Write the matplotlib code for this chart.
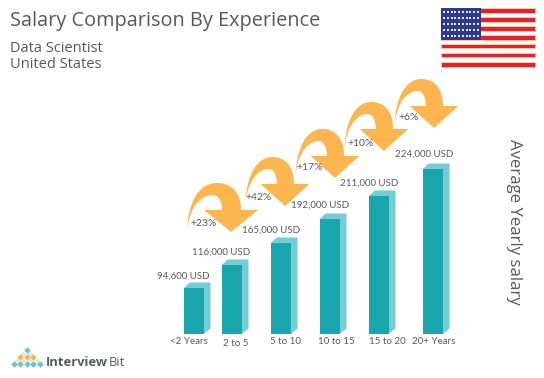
import numpy as np
import matplotlib
matplotlib.use("Agg")
import matplotlib.pyplot as plt
from matplotlib.path import Path
from matplotlib.patches import PathPatch, Polygon, Rectangle

# ---- data ----
experience = ["<2 Years", "2 to 5", "5 to 10", "10 to 15", "15 to 20", "20+ Years"]
salaries = [94600, 116000, 165000, 192000, 211000, 224000]
salary_labels = ["94,600 USD", "116,000 USD", "165,000 USD", "192,000 USD", "211,000 USD", "224,000 USD"]
growth = ["+23%", "+42%", "+17%", "+10%", "+6%"]
# the infographic's bar heights are not proportional to salary: drawn height (px) per salary
drawn_heights = [46, 69, 91, 115, 138, 165]

# ---- layout (pixels, origin top-left) ----
W, H = 544, 378
BASE = 334
bar_left = [184, 222, 271, 320, 369, 423]
BAR_W, DEPTH, RISE = 19.5, 7, 5.5
value_xy = [(183.5, 276), (221.5, 252), (271.5, 230), (320, 205), (369, 183), (424, 154)]
cat_xy = [(189, 342), (236, 343), (285, 341), (336, 341), (387, 341), (434, 341)]
tips = [(231, 232), (285, 206), (335, 178), (384, 151), (434, 128)]
tip_scale = [1.0, 0.9, 0.9, 0.9, 0.9]
pct_xy = [(190, 223), (245, 198), (296, 168), (347, 143), (398, 118)]

FRONT, SIDE, TEXT, ORANGE = "#1AA6AD", "#74CDD5", "#58595B", "#FDB64F"
LABEL_FONT = "Lato"
TITLE_FONT = "Open Sans"

fig = plt.figure(figsize=(W / 100, H / 100), dpi=100, facecolor="white")
canvas = fig.add_axes([0, 0, 1, 1])
canvas.set_xlim(0, W)
canvas.set_ylim(H, 0)
canvas.axis("off")

# bar axes: x in pixels, y is salary through a scale fitted to the drawn heights
knots_sal = np.array([0] + salaries + [400000], dtype=float)
knots_px = np.array([0] + drawn_heights + [BASE], dtype=float)
bars_ax = fig.add_axes([0, (H - BASE) / H, 1, BASE / H], sharex=canvas)
bars_ax.set_yscale("function", functions=(lambda v: np.interp(v, knots_sal, knots_px),
                                          lambda p: np.interp(p, knots_px, knots_sal)))
bars_ax.set_ylim(0, 400000)
bars_ax.patch.set_alpha(0)
bars_ax.axis("off")
rects = bars_ax.bar(bar_left, salaries, width=BAR_W, align="edge", color=FRONT, zorder=3)

# 3D side and top faces, derived from each bar's drawn top
for rect, sal, left in zip(rects, salaries, bar_left):
    top = H - bars_ax.transData.transform((0, sal))[1]
    right = left + BAR_W
    canvas.add_patch(Polygon([(left, top), (left + DEPTH * .8, top - RISE), (right + DEPTH, top - RISE),
                              (right + DEPTH, BASE - RISE), (right, BASE), (right, top)],
                             closed=True, fc=SIDE, ec="none", zorder=1))

# curved arrows
arrow = [(-27, -22), (-9, -22), (-9, -31), (-13, -37), (-18, -37), (-32, -37), (-42, -22), (-44, -2),
         (-43, -30), (-32, -49), (-14, -49), (0, -49), (10, -40), (10, -22), (27, -22), (0, 0), (-27, -22)]
codes = [Path.MOVETO, Path.LINETO] + [Path.CURVE4] * 6 + [Path.CURVE4] * 6 + [Path.LINETO, Path.LINETO, Path.CLOSEPOLY]
for (tx, ty), k in zip(tips, tip_scale):
    verts = [(tx + a * k, ty + b) for a, b in arrow]
    canvas.add_patch(PathPatch(Path(verts, codes), fc=ORANGE, ec="none", zorder=2))

# texts
for (x, y), s in zip(value_xy, salary_labels):
    canvas.text(x, y, s, ha="center", va="center", fontsize=7, family=LABEL_FONT, color=TEXT, zorder=5)
for (x, y), s in zip(cat_xy, experience):
    canvas.text(x, y, s, ha="center", va="center", fontsize=7, family=LABEL_FONT, color=TEXT, zorder=5)
for (x, y), s in zip(pct_xy, growth):
    canvas.text(x, y, s, ha="left", va="center", fontsize=7.5, family=LABEL_FONT, color=TEXT, zorder=5)

canvas.text(10, 21, "Salary Comparison By Experience", ha="left", va="center", fontsize=14.3, family=TITLE_FONT, color=TEXT)
canvas.text(10, 49, "Data Scientist", ha="left", va="center", fontsize=10.5, family=TITLE_FONT, color=TEXT)
canvas.text(10, 65, "United States", ha="left", va="center", fontsize=10.5, family=TITLE_FONT, color=TEXT)
canvas.text(514, 222, "Average Yearly salary", rotation=270, ha="center", va="center", fontsize=12.1,
            family=TITLE_FONT, color=TEXT)

# flag
for y0, y1 in [(8, 12.5), (17, 21.5), (26, 31), (35, 40), (44, 48), (53, 57), (62, 67)]:
    canvas.add_patch(Rectangle((441, y0), 94, y1 - y0, fc="#E8202A", ec="#F9C9A8", lw=0.7))
canvas.add_patch(Rectangle((441, 8), 40, 32, fc="#2E3A8F", ec="none", zorder=2))
sx, sy = np.meshgrid(np.linspace(444, 478, 10), np.linspace(12.3, 35.7, 5))
canvas.scatter(sx.ravel(), sy.ravel(), s=2.2, marker="s", c="#E6E8F5", linewidths=0, zorder=3)

# logo
rows = [(350, ["#6CC5CC"]), (353.5, ["#E4E6E8"] * 2), (357, ["#F9B44A"] * 3),
        (360.5, ["#E4E6E8"] * 4), (364, ["#6CC5CC"] * 5)]
for y, cols in rows:
    n = len(cols)
    for i, c in enumerate(cols):
        x = 26.7 + (i - (n - 1) / 2) * 6.6
        canvas.scatter([x], [y], s=11, marker="D", c=c, linewidths=0, zorder=3)
canvas.text(46, 362, "Interview", ha="left", va="center", fontsize=9.4, family="Open Sans", weight="bold", color="#5A5D60")
canvas.text(109, 362, "Bit", ha="left", va="center", fontsize=9.4, family="Open Sans", color="#5A5D60")

fig.savefig("out.png", dpi=100)
